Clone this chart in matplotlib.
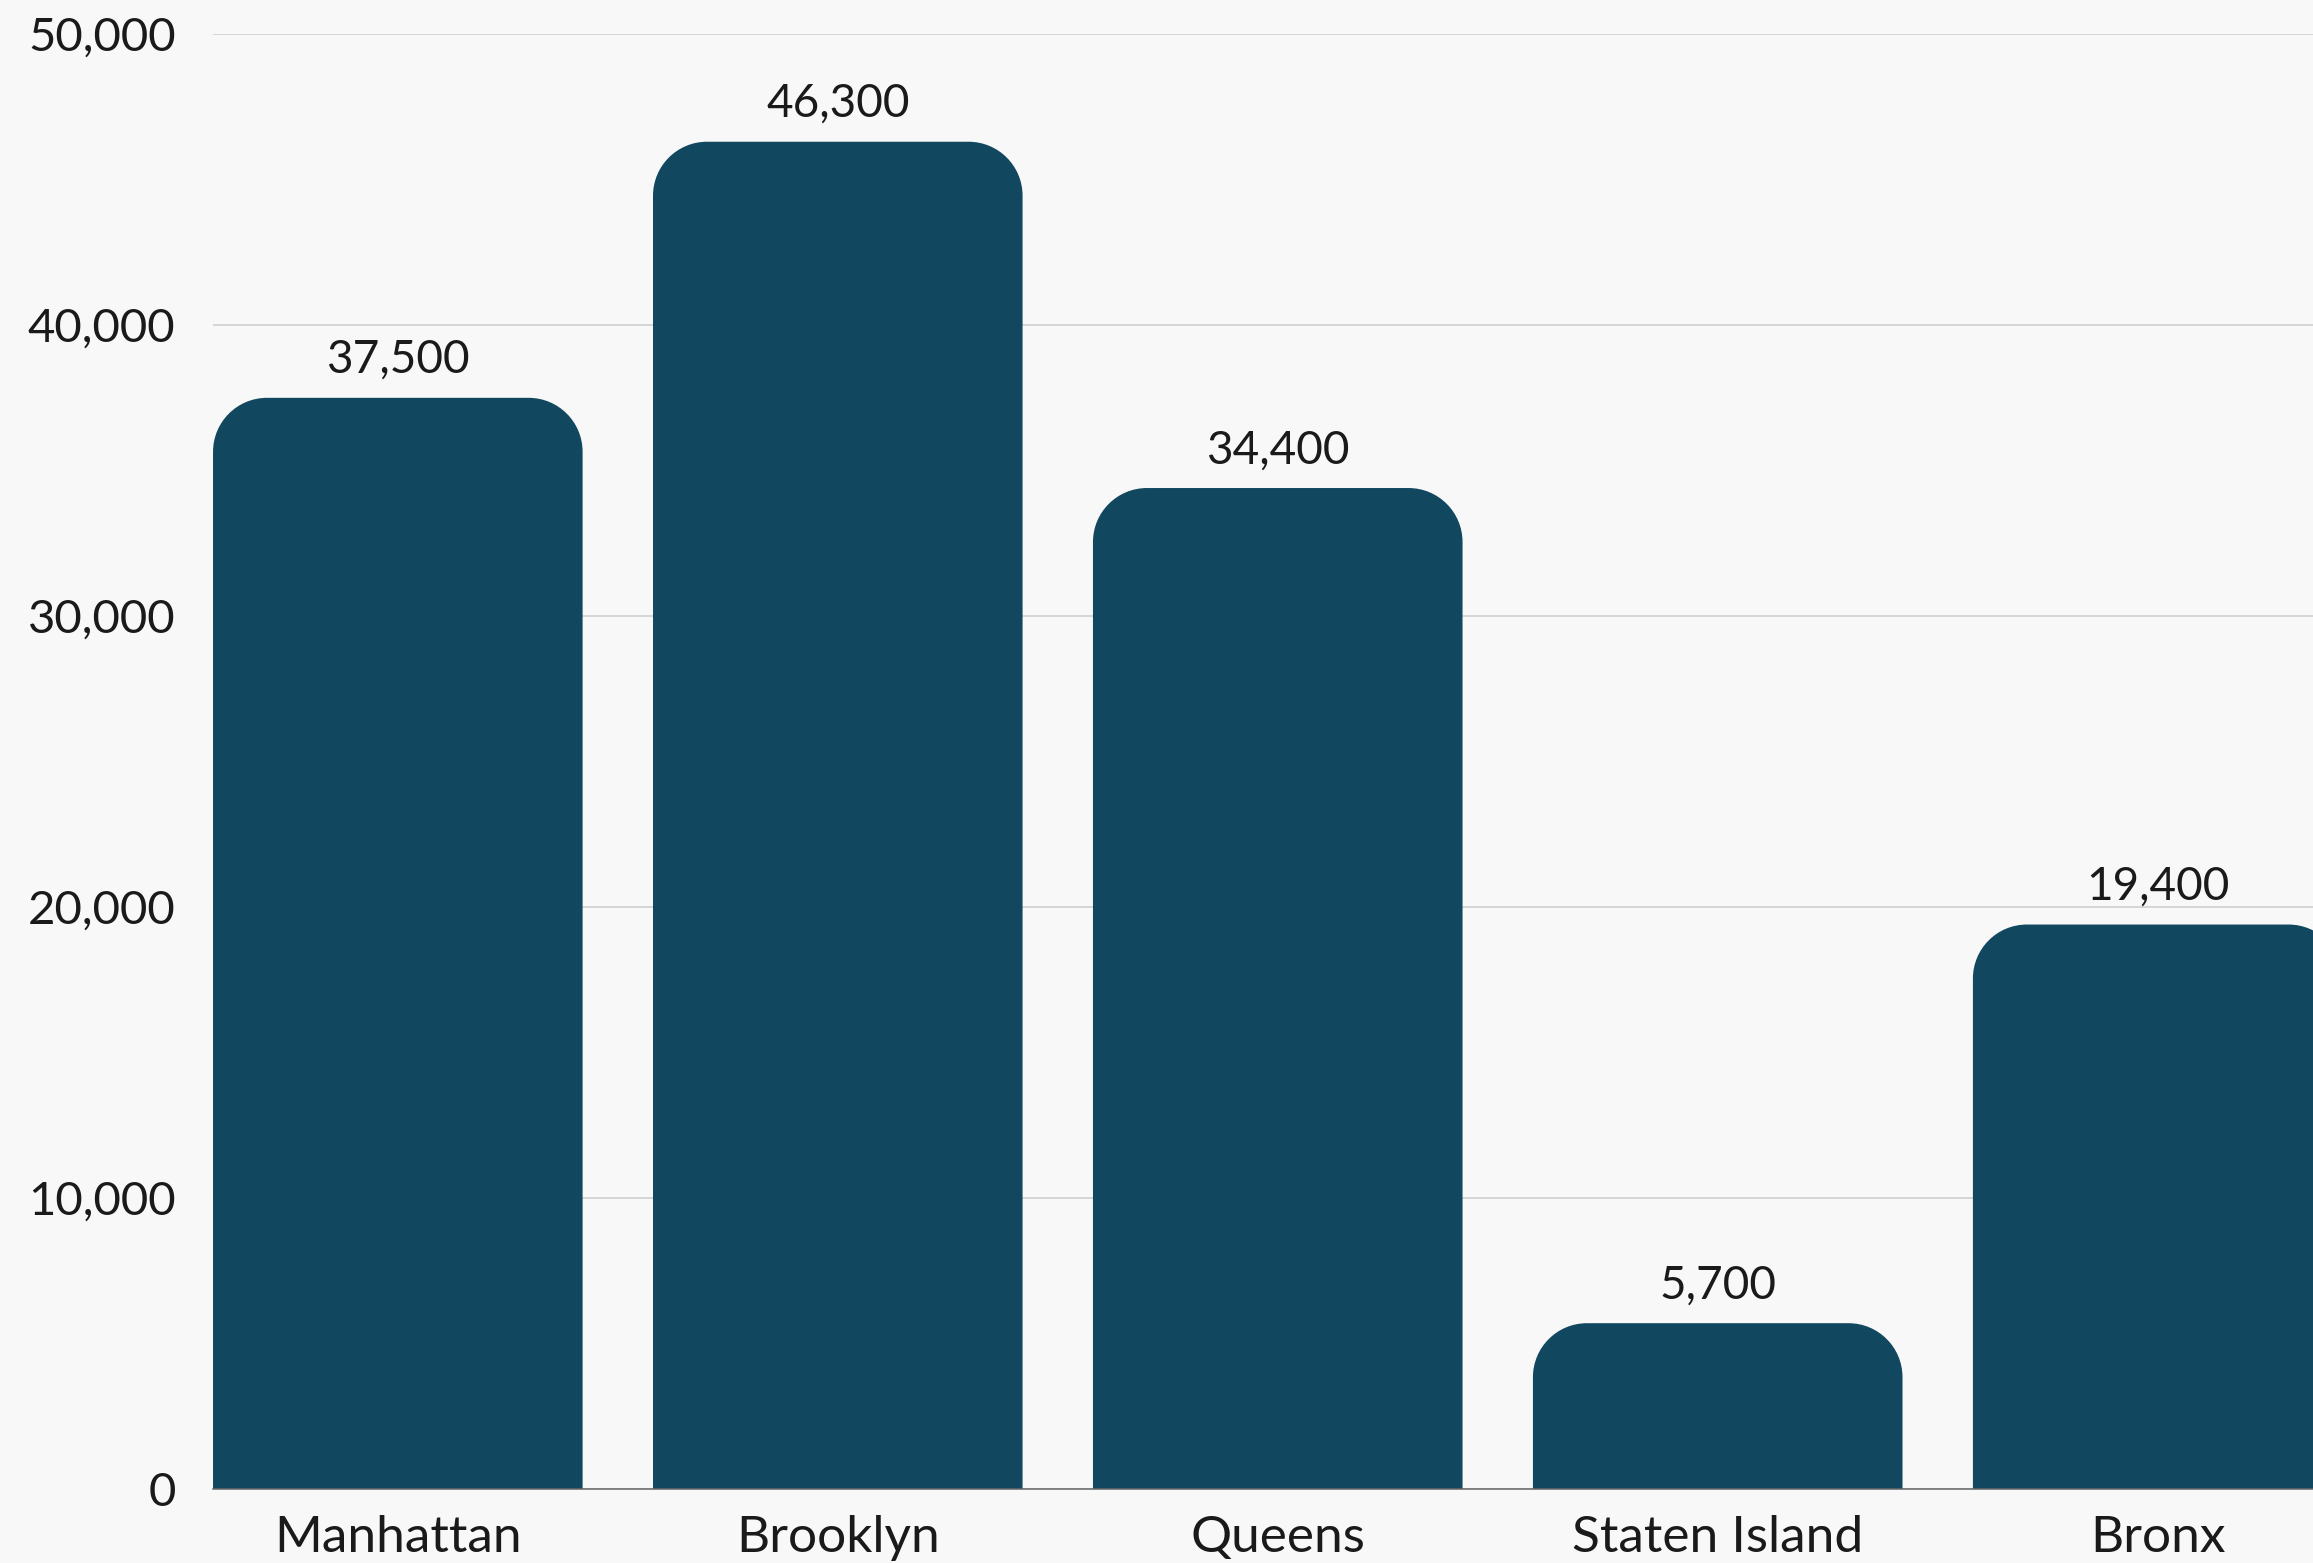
import matplotlib
matplotlib.use("Agg")
import matplotlib.pyplot as plt
from matplotlib.path import Path
from matplotlib.patches import PathPatch
from matplotlib.ticker import FuncFormatter

# data
boroughs = ["Manhattan", "Brooklyn", "Queens", "Staten Island", "Bronx"]
counts = [37500, 46300, 34400, 5700, 19400]

bar_color = "#11475f"
bg = "#f8f8f8"

plt.rcParams["font.family"] = ["Lato", "DejaVu Sans"]

fig = plt.figure(figsize=(23.13, 15.63), dpi=100, facecolor=bg)
ax = fig.add_axes([0.0921, 0.0473, 0.9079, 0.9309])
ax.set_facecolor(bg)

ax.set_xlim(-0.42, 4.353)
ax.set_ylim(0, 50000)

# plain bars first, then swap them for rounded-top versions
bars = ax.bar(range(len(boroughs)), counts, width=0.84, color=bar_color, zorder=2)

# corner radius in pixels -> data units
fig.canvas.draw()
p0 = ax.transData.transform((0, 0))
p1 = ax.transData.transform((1, 10000))
rx = 54 / (p1[0] - p0[0])
ry = 54 / ((p1[1] - p0[1]) / 10000)
k = 0.5523  # bezier circle constant

for b in bars:
    x0, y0 = b.get_x(), b.get_y()
    w, h = b.get_width(), b.get_height()
    x1, y1 = x0 + w, y0 + h
    r_y = min(ry, h)
    verts = [
        (x0, y0), (x0, y1 - r_y),
        (x0, y1 - r_y * (1 - k)), (x0 + rx * (1 - k), y1), (x0 + rx, y1),
        (x1 - rx, y1),
        (x1 - rx * (1 - k), y1), (x1, y1 - r_y * (1 - k)), (x1, y1 - r_y),
        (x1, y0), (x0, y0),
    ]
    codes = [Path.MOVETO, Path.LINETO,
             Path.CURVE4, Path.CURVE4, Path.CURVE4,
             Path.LINETO,
             Path.CURVE4, Path.CURVE4, Path.CURVE4,
             Path.LINETO, Path.CLOSEPOLY]
    ax.add_patch(PathPatch(Path(verts, codes), facecolor=bar_color,
                           edgecolor="none", zorder=2, clip_on=True))
    b.set_visible(False)
    ax.annotate(f"{int(h):,}", (b.get_x() + w / 2, y1),
                xytext=(0, 12), textcoords="offset points",
                ha="center", va="bottom", fontsize=33, color="#1a1a1a")

ax.set_yticks([0, 10000, 20000, 30000, 40000, 50000])
ax.yaxis.set_major_formatter(FuncFormatter(lambda v, p: f"{int(v):,}"))
ax.grid(axis="y", color="#cccccc", linewidth=1.1, zorder=0)
ax.set_axisbelow(True)

ax.set_xticks(range(len(boroughs)))
ax.set_xticklabels(boroughs)
ax.tick_params(axis="both", length=0, labelcolor="#1a1a1a")
ax.tick_params(axis="y", pad=27, labelsize=34)
ax.tick_params(axis="x", pad=19, labelsize=37)

for s in ["top", "right", "left"]:
    ax.spines[s].set_visible(False)
ax.spines["bottom"].set_color("#666666")
ax.spines["bottom"].set_linewidth(1.1)
ax.spines["bottom"].set_zorder(3)

fig.savefig("out.png", dpi=100, facecolor=bg)
